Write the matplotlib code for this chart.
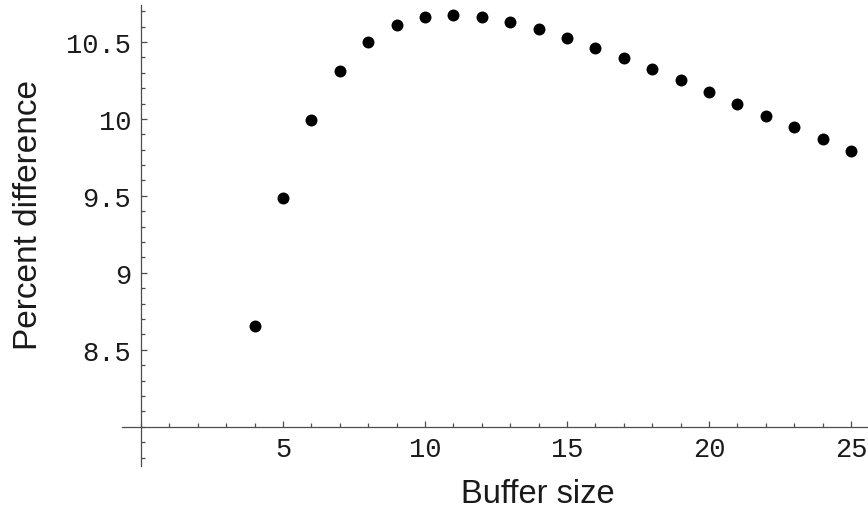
import numpy as np
import matplotlib.pyplot as plt
from matplotlib.ticker import MultipleLocator

# data
buffer_size = [4, 5, 6, 7, 8, 9, 10, 11, 12, 13, 14, 15, 16, 17, 18, 19, 20, 21, 22, 23, 24, 25]
percent_diff = [8.656, 9.488, 9.995, 10.309, 10.498, 10.609, 10.659, 10.674, 10.659, 10.628,
                10.582, 10.526, 10.463, 10.396, 10.324, 10.250, 10.174, 10.098, 10.022, 9.946,
                9.870, 9.793]
x_ticks = [5, 10, 15, 20, 25]
y_ticks = [8.5, 9, 9.5, 10, 10.5]
y_tick_labels = ["8.5", "9", "9.5", "10", "10.5"]

W, H = 868, 510
fig = plt.figure(figsize=(W / 100, H / 100), dpi=100)

# axes box spans the plot range, in pixels of the picture
left, right, top, bottom = 122, 868, 6, 467
ax = fig.add_axes([left / W, 1 - bottom / H, (right - left) / W, (bottom - top) / H])
ax.set_xlim(-0.67, 25.6)
ax.set_ylim(7.745, 10.74)

ax.plot(buffer_size, percent_diff, 'o', color='black', markersize=8.6, markeredgewidth=0)

axis_col = '0.3'
for s in ['top', 'right']:
    ax.spines[s].set_visible(False)
ax.spines['left'].set_position(('data', 0))
ax.spines['bottom'].set_position(('data', 8))
for s in ['left', 'bottom']:
    ax.spines[s].set_color(axis_col)
    ax.spines[s].set_linewidth(0.9)

ax.set_xticks(x_ticks)
ax.set_yticks(y_ticks)
ax.set_yticklabels(y_tick_labels)
ax.xaxis.set_minor_locator(MultipleLocator(1))
ax.yaxis.set_minor_locator(MultipleLocator(0.1))
ax.tick_params(which='both', direction='in', color=axis_col, width=0.9)
ax.tick_params(which='major', length=4)
ax.tick_params(which='minor', length=3)
ax.tick_params(axis='y', which='major', pad=7)
ax.tick_params(axis='x', which='major', pad=7)
for lab in ax.get_xticklabels() + ax.get_yticklabels():
    lab.set_fontfamily('Liberation Mono')
    lab.set_fontsize(19.5)
    lab.set_color('0.1')

fig.text(538 / W, 1 - 503.5 / H, "Buffer size", fontsize=23.5, family='Liberation Sans',
         ha='center', va='baseline', color='0.1')
fig.text(37 / W, 1 - 215 / H, "Percent difference", fontsize=24, family='Liberation Sans',
         ha='center', va='baseline', rotation=90, rotation_mode='anchor', color='0.1')

fig.savefig("out.png", dpi=100)
